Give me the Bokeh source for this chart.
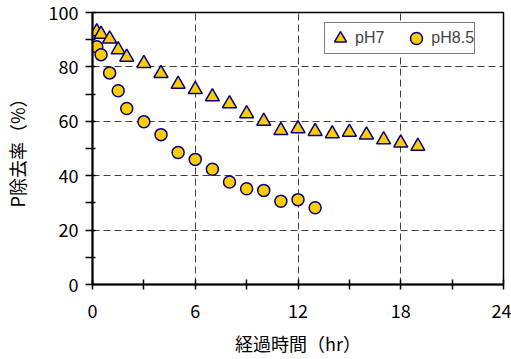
from bokeh.plotting import figure
from bokeh.models import FixedTicker, Range1d, Legend, LegendItem
from bokeh.embed import file_html
from bokeh.resources import INLINE

# Elapsed time (hr) and phosphorus removal rate (%)
hours_ph7 = [0.25, 0.5, 1, 1.5, 2, 3, 4, 5, 6, 7, 8, 9, 10, 11, 12, 13, 14, 15, 16, 17, 18, 19]
removal_ph7 = [92.9, 92.0, 90.3, 86.3, 83.6, 81.3, 77.6, 73.6, 71.7, 69.0, 66.5, 62.8,
               60.0, 56.6, 57.3, 56.3, 55.4, 56.0, 55.0, 53.2, 52.0, 50.8]

hours_ph85 = [0.25, 0.5, 1, 1.5, 2, 3, 4, 5, 6, 7, 8, 9, 10, 11, 12, 13]
removal_ph85 = [87.4, 84.5, 77.8, 71.2, 64.7, 59.8, 55.1, 48.5, 46.0, 42.4, 37.7, 35.2,
                34.6, 30.6, 31.2, 28.2]

x_ticks = [0, 6, 12, 18, 24]
x_minor = [3, 9, 15, 21]
y_ticks = [0, 20, 40, 60, 80, 100]
y_minor = [10, 30, 50, 70, 90]

JP_FONT = "Noto Sans CJK JP"
FILL = "#FFCC00"
EDGE = "#000080"

p = figure(width=511, height=359, output_backend="svg", toolbar_location=None,
           x_range=Range1d(0, 24), y_range=Range1d(0, 100),
           min_border_left=91, min_border_right=8, min_border_top=12, min_border_bottom=75)

p.background_fill_color = "white"
p.border_fill_color = "white"
p.outline_line_color = "black"
p.outline_line_width = 1.5

# axes
p.xaxis.ticker = FixedTicker(ticks=x_ticks, minor_ticks=x_minor)
p.yaxis.ticker = FixedTicker(ticks=y_ticks, minor_ticks=y_minor)
for ax in (p.xaxis[0], p.yaxis[0]):
    ax.axis_line_color = "black"
    ax.axis_line_width = 2
    ax.major_tick_line_color = "black"
    ax.minor_tick_line_color = "black"
    ax.major_tick_line_width = 1.5
    ax.minor_tick_line_width = 1.5
    ax.major_label_text_font = JP_FONT
    ax.major_label_text_font_size = "18px"
    ax.major_label_text_color = "black"
    ax.axis_label_text_font = JP_FONT
    ax.axis_label_text_font_size = "18px"
    ax.axis_label_text_font_style = "normal"
    ax.axis_label_text_color = "black"

p.xaxis.major_tick_in = 5
p.xaxis.major_tick_out = 5
p.xaxis.minor_tick_in = 5
p.xaxis.minor_tick_out = 5
p.xaxis.major_label_standoff = 14
p.xaxis.axis_label = "経過時間（hr）"
p.xaxis.axis_label_standoff = 9

p.yaxis.major_tick_in = 3
p.yaxis.major_tick_out = 7
p.yaxis.minor_tick_in = 3
p.yaxis.minor_tick_out = 7
p.yaxis.major_label_standoff = 7
p.yaxis.axis_label = "P除去率（%）"
p.yaxis.axis_label_standoff = 16

# dashed grid inside the frame
p.xgrid.ticker = FixedTicker(ticks=[6, 12, 18])
p.ygrid.ticker = FixedTicker(ticks=[20, 40, 60, 80])
for g in (p.xgrid[0], p.ygrid[0]):
    g.grid_line_color = "#404040"
    g.grid_line_width = 1
    g.grid_line_dash = "7 4"

r7 = p.scatter(hours_ph7, removal_ph7, marker="triangle", size=14,
               fill_color=FILL, line_color=EDGE, line_width=1.5)
r85 = p.scatter(hours_ph85, removal_ph85, marker="circle", size=12,
                fill_color=FILL, line_color=EDGE, line_width=1.5)

legend = Legend(items=[LegendItem(label="pH7", renderers=[r7]),
                       LegendItem(label="pH8.5", renderers=[r85])],
                orientation="horizontal", location=(232, 230),
                padding=0, spacing=17, margin=0,
                glyph_width=30, glyph_height=30, label_standoff=0,
                label_text_font="Liberation Sans", label_text_font_size="16px",
                border_line_color="black", border_line_width=1.5,
                background_fill_color="white", background_fill_alpha=1)
p.add_layout(legend)

open("out.html", "w").write(file_html(p, INLINE))
